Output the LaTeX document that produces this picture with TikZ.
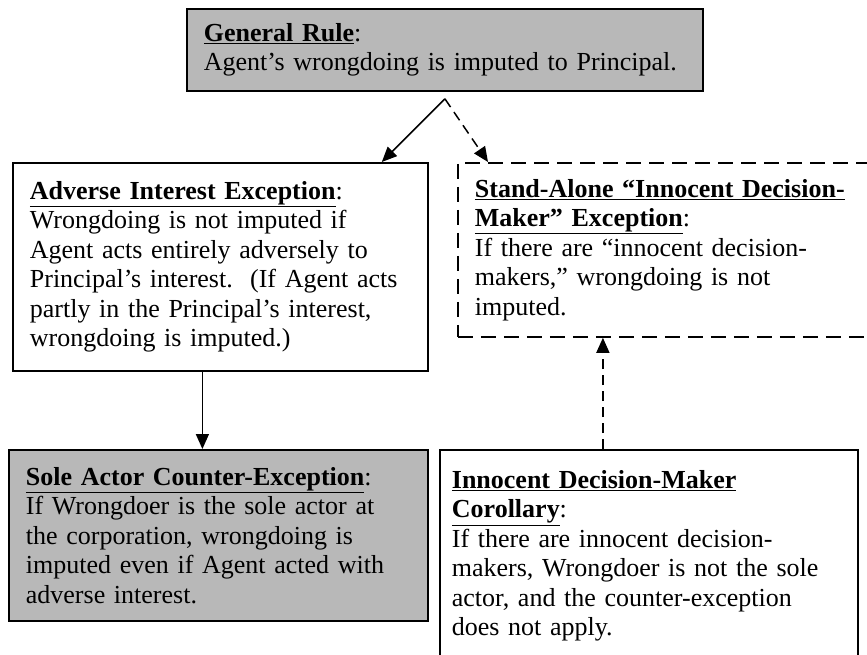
\documentclass[tikz,border=0pt]{standalone}
\usepackage{fontspec}
\setmainfont{Liberation Serif}
\usetikzlibrary{arrows.meta,positioning}
\def\boxline{1.8pt}
\def\padx{17pt}
\def\arrowdrop{7pt}
\definecolor{shade}{gray}{0.72}
\newcommand{\hd}[1]{\underline{\textbf{#1}}}

\begin{document}
\begin{tikzpicture}[x=1pt,y=-1pt,myarrow/.style={-{Triangle[length=15pt,width=13pt]},line width=1.5pt}]
    \tikzstyle{rule}=[draw=black,line width=\boxline,inner xsep=\padx,inner ysep=0pt,anchor=north west,align=left,font=\fontsize{26}{29.5}\selectfont]
    \tikzstyle{shaded rule}=[rule,fill=shade]
    \tikzstyle{loose rule}=[rule,dash pattern=on 15pt off 8pt]
    \tikzstyle{loose arrow}=[myarrow,dash pattern=on 10pt off 6pt]

    \clip (0,0) rectangle (867,654);

    % Draw the boxes
    \node[shaded rule, text width=482pt, minimum height=82pt] (general) at (186,8)
        {\hd{General Rule}:\\ Agent’s wrongdoing is imputed to Principal.};
    \node[rule, text width=381pt, minimum height=208pt] (adverse) at (12,162)
        {\hd{Adverse Interest Exception}:\\ Wrongdoing is not imputed if\\ Agent acts entirely adversely to\\ Principal’s interest.\ \ (If Agent acts\\ partly in the Principal’s interest,\\ wrongdoing is imputed.)};
    \node[loose rule, text width=396pt, minimum height=174pt] (standalone) at (457,162)
        {\hd{Stand-Alone “Innocent Decision-}\\ \hd{Maker” Exception}:\\ If there are “innocent decision-\\ makers,” wrongdoing is not\\ imputed.};
    \node[shaded rule, text width=385pt, minimum height=171pt] (sole) at (8,449)
        {\hd{Sole Actor Counter-Exception}:\\ If Wrongdoer is the sole actor at\\ the corporation, wrongdoing is\\ imputed even if Agent acted with\\ adverse interest.};
    \node[rule, inner xsep=12pt, text width=394pt, minimum height=212pt] (corollary) at (439,449)
        {\hd{Innocent Decision-Maker}\\ \hd{Corollary}:\\ If there are innocent decision-\\ makers, Wrongdoer is not the sole\\ actor, and the counter-exception\\ does not apply.};

    % Connect the boxes
    \draw[myarrow] ([yshift=-\arrowdrop]general.south) -- ([xshift=-47pt]adverse.north east);
    \draw[loose arrow] ([yshift=-\arrowdrop]general.south) -- ([xshift=31pt]standalone.north west);
    \draw[myarrow] ([xshift=-18pt]adverse.south) -- ([xshift=-18pt]adverse.south |- sole.north);
    \draw[loose arrow] ([xshift=-46pt]corollary.north) -- ([xshift=-46pt]corollary.north |- standalone.south);
\end{tikzpicture}
\end{document}
